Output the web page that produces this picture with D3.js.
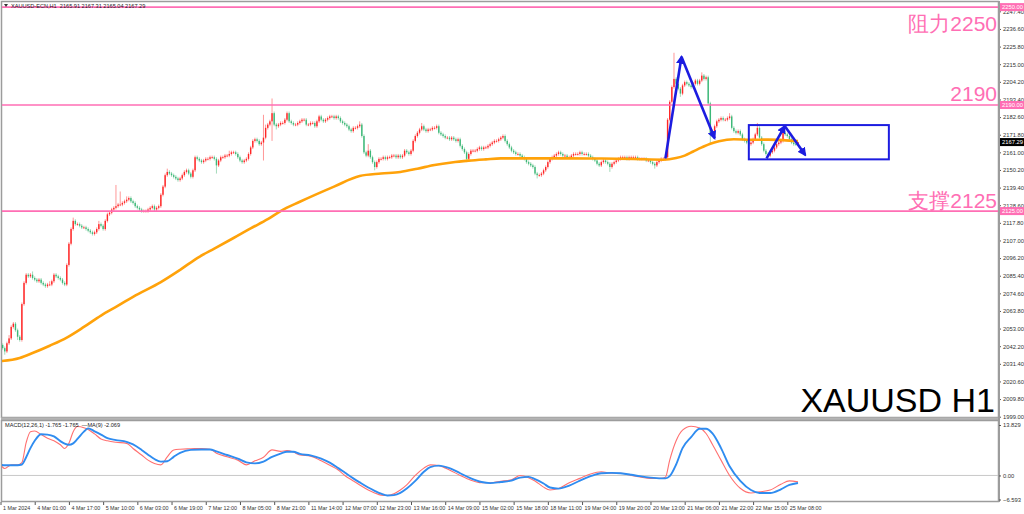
<!DOCTYPE html>
<html>
<head>
<meta charset="utf-8">
<script src="https://cdnjs.cloudflare.com/ajax/libs/d3/7.8.5/d3.min.js"></script>
<style>
body { margin: 0; background: #fff; }
svg { display: block; }
</style>
</head>
<body>
<script>

// ---- data ----
var symbolTitle = "XAUUSD-ECN,H1  2165.91 2167.31 2165.04 2167.29";
var macdTitle = "MACD(12,26,1) -1.765 -1.765  \u2014MA(9) -2.069";

var firstOpen = 2046;
// hourly closes, rows of 10 bars
var closes = [
2043,2041,2039,2044,2047,2054,2056,2052,2048,2046,
2068,2081,2086,2085,2086,2084,2083,2082,2083,2081,
2080,2079,2080,2080,2082,2086,2085,2084,2083,2081,
2080,2092,2105,2114,2119,2117,2117,2116,2115,2115,
2114,2113,2112,2111,2112,2114,2117,2116,2114,2119,
2123,2124,2126,2127,2128,2129,2129,2130,2131,2132,
2133,2131,2130,2128,2127,2126,2125,2125,2125,2126,
2127,2128,2126,2127,2128,2135,2140,2147,2149,2148,
2147,2146,2145,2144,2145,2147,2149,2150,2148,2146,
2150,2158,2157,2156,2155,2156,2157,2157,2158,2158,
2157,2153,2156,2158,2158,2159,2159,2160,2161,2161,
2160,2158,2156,2155,2156,2157,2160,2164,2168,2169,
2168,2166,2167,2170,2176,2178,2180,2185,2178,2177,
2178,2179,2179,2181,2185,2180,2179,2178,2178,2179,
2180,2181,2181,2178,2178,2179,2179,2177,2180,2183,
2181,2180,2181,2182,2183,2183,2182,2183,2182,2180,
2179,2178,2177,2175,2174,2176,2176,2177,2178,2171,
2161,2159,2162,2158,2155,2152,2155,2157,2157,2158,
2157,2158,2158,2159,2159,2158,2159,2158,2159,2162,
2161,2160,2162,2168,2171,2173,2175,2177,2175,2174,
2175,2175,2176,2176,2177,2173,2172,2171,2170,2170,
2169,2170,2169,2168,2169,2165,2163,2161,2157,2160,
2162,2162,2162,2163,2164,2163,2164,2164,2165,2166,
2167,2168,2168,2169,2170,2171,2168,2166,2164,2162,
2161,2160,2160,2159,2158,2157,2155,2154,2153,2152,
2148,2147,2147,2148,2150,2152,2155,2157,2158,2159,
2160,2161,2160,2159,2159,2158,2158,2159,2160,2160,
2160,2161,2160,2160,2160,2159,2158,2157,2156,2154,
2153,2155,2156,2155,2154,2152,2154,2155,2156,2157,
2158,2158,2158,2157,2158,2158,2158,2158,2157,2157,
2157,2157,2156,2156,2155,2154,2153,2155,2156,2157,
2157,2158,2181,2192,2201,2206,2203,2200,2197,2202,
2204,2203,2202,2201,2203,2205,2203,2205,2208,2206,
2207,2191,2172,2174,2177,2180,2181,2182,2181,2181,
2182,2183,2176,2174,2173,2174,2172,2169,2168,2167,
2166,2167,2169,2172,2176,2170,2166,2162,2160,2159,
2161,2162,2164,2166,2167,2168,2173,2172,2171,2169,
2167,2166,2165.9,2167.29
];
// wick above the body / below the body, in dollars
var wickUp = [
1,1,1,1,2,1,1,1,1,1,
1,1,1,1,1,2,1,1,1,1,
1,1,1,2,1,1,1,1,1,1,
1,1,1,1,2,1,1,1,1,1,
1,1,1,1,1,1,2,1,1,1,
1,1,1,1,13,1,8,1,1,2,
1,1,1,1,1,1,1,1,1,1,
1,1,1,1,1,1,1,1,2,1,
1,1,1,1,1,1,1,1,1,1,
1,1,1,1,1,1,1,1,1,1,
1,1,1,1,1,1,1,2,1,1,
1,1,1,1,1,1,1,1,1,1,
1,1,1,14,2,1,1,9,1,1,
1,1,1,1,1,1,1,1,1,1,
1,1,1,1,1,1,1,1,1,1,
1,1,1,1,1,1,1,1,1,1,
1,1,1,1,1,1,1,1,2,1,
1,1,4,1,1,1,1,1,1,1,
1,1,1,1,1,1,1,1,1,1,
1,1,1,1,1,1,1,2,1,1,
1,1,1,1,1,1,1,1,1,1,
1,1,1,1,1,1,1,1,1,1,
1,1,1,1,1,1,1,1,1,1,
1,1,1,1,1,1,1,1,1,1,
1,1,1,1,1,1,1,1,1,1,
1,1,1,1,1,1,1,1,1,1,
1,1,1,1,1,1,1,1,1,1,
1,1,1,1,1,1,1,1,1,1,
1,1,1,1,1,1,1,1,1,1,
1,1,1,1,1,1,1,1,1,1,
1,1,1,1,1,1,1,1,1,1,
1,1,1,1,1,16,1,1,1,1,
1,1,1,1,1,1,1,1,2,1,
1,1,1,1,1,1,1,1,1,1,
1,2,1,1,1,1,1,1,1,1,
1,1,1,1,3,1,1,1,1,1,
1,1,1,1,1,1,2,1,1,1,
1,1,1,0.1
];
var wickDn = [
1,1,2,1,1,1,1,1,2,1,
1,1,1,1,1,1,1,1,1,1,
1,1,1,1,1,1,1,1,1,1,
1,1,1,1,1,1,1,1,1,1,
1,1,1,1,1,1,1,1,1,1,
1,1,1,1,1,1,1,1,1,1,
1,1,1,1,1,1,1,1,1,1,
1,1,1,1,1,1,1,1,1,1,
1,1,1,1,1,1,1,1,1,1,
1,1,1,1,1,1,1,1,1,1,
1,5,1,1,1,1,1,1,1,1,
1,1,1,1,1,1,1,1,1,1,
1,1,1,11,1,1,1,12,1,2,
1,1,1,1,1,1,1,1,1,1,
1,1,1,1,1,1,1,1,1,1,
1,1,1,1,1,1,1,1,1,1,
1,1,1,1,1,1,1,1,1,1,
1,1,1,1,1,2,1,1,1,1,
1,1,1,1,1,1,1,1,1,1,
1,1,1,1,1,1,1,1,1,1,
1,1,1,1,1,1,1,1,1,1,
1,1,1,1,1,1,1,1,2,1,
1,1,1,1,1,1,1,1,1,1,
1,1,1,1,1,1,1,1,1,1,
1,1,1,1,1,1,1,1,1,1,
1,2,1,1,1,1,1,1,1,1,
1,1,1,1,1,1,1,1,1,1,
1,1,1,1,1,1,1,1,1,1,
1,1,1,1,1,3,1,1,1,1,
1,1,1,1,1,1,1,1,1,1,
1,1,1,1,1,1,2,1,1,1,
1,1,1,1,1,1,1,1,2,1,
1,1,1,1,1,1,1,1,1,1,
1,1,6,1,1,1,1,1,1,1,
1,1,1,1,1,1,1,1,1,1,
1,1,1,1,1,1,1,1,1,1,
1,1,1,1,1,1,1,1,1,1,
1,1,1,0.9
];

// orange moving average, sampled at bar indices
var maIdx = [0, 9, 15, 23, 31, 39, 47, 55, 62, 75, 84, 93, 100, 109, 117, 125, 131, 140, 156, 168, 178, 187, 195, 203, 211, 219, 227, 234, 250, 265, 281, 296, 310, 316, 320, 324, 328, 332, 336, 343, 351, 359, 366, 373];
var maVal = [2033, 2035, 2038, 2042.5, 2047.5, 2054, 2061, 2067, 2072.5, 2081.5, 2089, 2097, 2102, 2108.5, 2114.4, 2120, 2125, 2130.7, 2140, 2146.5, 2148, 2149, 2151, 2153.2, 2154.8, 2155.9, 2156.7, 2157.3, 2157.3, 2157.3, 2157.2, 2156.9, 2156.5, 2157.5, 2159, 2161.5, 2164, 2166.3, 2167.8, 2169, 2168.7, 2168.8, 2168.5, 2167.9];

// MACD main and signal, sampled at bar indices
var macdIdx = [0, 2, 5, 8, 10, 12, 14, 16, 19, 22, 25, 28, 30, 32, 34, 36, 39, 41, 44, 47, 50, 54, 59, 62, 66, 69, 72, 75, 78, 81, 84, 89, 94, 98, 101, 106, 111, 115, 119, 123, 127, 131, 134, 137, 140, 145, 150, 154, 158, 161, 165, 168, 172, 175, 178, 181, 184, 187, 190, 194, 198, 201, 205, 210, 215, 220, 225, 229, 234, 239, 243, 247, 250, 254, 257, 261, 266, 271, 276, 281, 286, 290, 295, 299, 304, 309, 311, 313, 316, 319, 323, 327, 330, 333, 337, 341, 346, 351, 355, 360, 365, 369, 373];
var macdMain = [2.9, 1.9, 2.9, 2.9, 3.5, 9.0, 12.0, 12.2, 11.2, 10.2, 9.5, 8.4, 7.4, 8.8, 12.0, 13.4, 13.1, 12.6, 11.4, 10.0, 9.5, 9.1, 8.8, 7.4, 5.6, 4.2, 3.3, 2.9, 5.1, 7.0, 7.2, 7.3, 7.4, 7.2, 6.1, 5.1, 4.2, 2.9, 4.0, 5.0, 7.0, 6.6, 6.8, 6.4, 5.6, 5.3, 4.0, 2.8, 1.5, 0.0, -1.5, -2.6, -4.0, -4.8, -5.4, -5.5, -5.0, -4.0, -2.6, 0.0, 2.0, 2.9, 2.7, 1.5, 0.0, -1.3, -2.0, -2.0, -1.6, -1.2, 0.0, -0.6, -1.5, -3.2, -4.0, -3.6, -2.0, -0.8, 0.4, 1.0, 0.6, 0.6, 0.0, -0.4, -0.8, -0.8, -0.5, 4.2, 9.5, 12.4, 13.5, 13.0, 11.5, 8.5, 4.2, 0.0, -3.5, -4.8, -4.5, -4.0, -2.4, -1.5, -1.765];
var macdSignal = [2.9, 2.8, 2.8, 2.8, 3.0, 5.0, 7.5, 9.5, 11.3, 11.2, 10.7, 9.4, 8.7, 8.4, 8.8, 10.0, 12.0, 12.9, 12.1, 11.2, 10.2, 9.7, 9.2, 8.5, 7.0, 5.7, 4.5, 3.8, 3.9, 5.1, 6.2, 7.0, 7.1, 7.1, 6.6, 5.6, 4.6, 3.6, 3.3, 3.8, 5.1, 6.0, 6.5, 6.5, 5.9, 5.5, 4.6, 3.5, 2.0, 0.8, -0.8, -1.9, -3.3, -4.2, -5.0, -5.5, -5.4, -4.8, -3.6, -1.5, 1.0, 2.3, 2.7, 2.0, 0.6, -0.8, -1.8, -2.1, -1.8, -1.4, -0.6, -0.4, -1.0, -2.2, -3.3, -3.6, -2.8, -1.4, -0.2, 0.6, 0.7, 0.6, 0.2, -0.2, -0.6, -0.8, -0.8, -0.2, 3.0, 7.5, 10.5, 12.8, 12.8, 11.5, 7.5, 2.5, -1.5, -4.0, -4.8, -4.8, -3.8, -2.6, -2.069];

var priceTicks = [1999.0, 2009.8, 2020.6, 2031.4, 2042.2, 2053.0, 2063.8, 2074.6, 2085.4, 2096.2, 2107.0, 2117.8, 2128.6, 2139.4, 2150.2, 2161.0, 2171.8, 2182.6, 2193.4, 2204.2, 2215.0, 2225.8, 2236.6, 2247.4];
var timeIdx = [0, 16, 32, 48, 64, 80, 96, 112, 128, 144, 160, 176, 192, 208, 224, 240, 256, 272, 288, 304, 320, 336, 352, 368];
var timeLabels = ["1 Mar 2024", "4 Mar 01:00", "4 Mar 17:00", "5 Mar 10:00", "6 Mar 03:00", "6 Mar 19:00", "7 Mar 12:00", "8 Mar 05:00", "8 Mar 21:00", "11 Mar 14:00", "12 Mar 07:00", "12 Mar 23:00", "13 Mar 16:00", "14 Mar 09:00", "15 Mar 02:00", "15 Mar 18:00", "18 Mar 11:00", "19 Mar 04:00", "19 Mar 20:00", "20 Mar 13:00", "21 Mar 06:00", "21 Mar 22:00", "22 Mar 15:00", "25 Mar 08:00"];

var levels = [2250, 2190, 2125];
var levelTexts = ["\u963b\u529b2250", "2190", "\u652f\u64912125"];
var macdScale = [-6.593, 0, 13.829];

// hand drawn annotations, as [bar index, price]
var bigArrow = [[311, 2157.3], [318.5, 2219.6], [334, 2169.6]];
var smallArrow = [[358.3, 2157.3], [366.8, 2177.1], [376.4, 2159.4]];
var boxCorners = [[350, 2177.7], [415.5, 2156.7]];

// ---- chart ----
var W = 1024, H = 514;
var upColor = "#ff2626", downColor = "#3cb878";
var pink = "#ff6eb4", blue = "#1c1ce0";

var svg = d3.select("body").append("svg")
    .attr("width", W)
    .attr("height", H);

var n = closes.length;
var x = d3.scaleLinear().domain([0, n - 1]).range([0.5, 798]);
var y = d3.scaleLinear().domain([1999, 2250]).range([416.7, 7.1]);
var ym = d3.scaleLinear().domain([-6.593, 13.829]).range([499.5, 425]);

var candles = closes.map(function(c, i) {
  var o = i === 0 ? firstOpen : closes[i - 1];
  return {
    i: i, o: o, c: c,
    h: Math.max(o, c) + wickUp[i],
    l: Math.min(o, c) - wickDn[i]
  };
});

var defs = svg.append("defs");
defs.append("clipPath").attr("id", "clipMain")
  .append("rect").attr("x", 2).attr("y", 2).attr("width", 996).attr("height", 415);
defs.append("clipPath").attr("id", "clipMacd")
  .append("rect").attr("x", 2).attr("y", 421).attr("width", 996).attr("height", 80);
defs.append("marker")
    .attr("id", "head")
    .attr("viewBox", "0 0 10 10")
    .attr("refX", 8).attr("refY", 5)
    .attr("markerWidth", 3.4).attr("markerHeight", 3.4)
    .attr("orient", "auto")
  .append("path")
    .attr("d", "M0,0 L10,5 L0,10 z")
    .attr("fill", blue);

// frames
svg.append("rect").attr("x", 1.5).attr("y", 1.5).attr("width", 997).attr("height", 416)
  .attr("fill", "none").attr("stroke", "#9c9c9c").attr("stroke-width", 1.5);
svg.append("rect").attr("x", 1).attr("y", 417.5).attr("width", 998).attr("height", 3)
  .attr("fill", "#b4b4b4");
svg.append("rect").attr("x", 1.5).attr("y", 420.5).attr("width", 997).attr("height", 81)
  .attr("fill", "none").attr("stroke", "#9c9c9c").attr("stroke-width", 1.5);

var main = svg.append("g").attr("clip-path", "url(#clipMain)");

// candles
var cg = main.append("g");
cg.selectAll("line.wick")
  .data(candles)
  .enter().append("line")
  .attr("class", "wick")
  .attr("x1", function(d) { return x(d.i); })
  .attr("x2", function(d) { return x(d.i); })
  .attr("y1", function(d) { return y(d.h); })
  .attr("y2", function(d) { return y(d.l); })
  .attr("stroke", function(d) { return d.c >= d.o ? "#ff8c8c" : "#9ad6b2"; })
  .attr("stroke-width", 0.9);

cg.selectAll("rect.body")
  .data(candles)
  .enter().append("rect")
  .attr("class", "body")
  .attr("x", function(d) { return x(d.i) - 0.7; })
  .attr("width", 1.4)
  .attr("y", function(d) { return y(Math.max(d.o, d.c)); })
  .attr("height", function(d) { return Math.max(0.8, Math.abs(y(d.o) - y(d.c))); })
  .attr("fill", function(d) { return d.c >= d.o ? upColor : downColor; });

// moving average
var maPts = maIdx.map(function(d, i) { return [d, maVal[i]]; });
main.append("path")
  .datum(maPts)
  .attr("fill", "none")
  .attr("stroke", "#ffa20a")
  .attr("stroke-width", 2.6)
  .attr("d", d3.line()
    .x(function(d) { return x(d[0]); })
    .y(function(d) { return y(d[1]); })
    .curve(d3.curveMonotoneX));

// support / resistance lines
main.selectAll("line.level")
  .data(levels)
  .enter().append("line")
  .attr("class", "level")
  .attr("x1", 2).attr("x2", 999)
  .attr("y1", function(d) { return y(d); })
  .attr("y2", function(d) { return y(d); })
  .attr("stroke", pink)
  .attr("stroke-width", 1.6);

svg.selectAll("text.leveltext")
  .data(levels)
  .enter().append("text")
  .attr("class", "leveltext")
  .attr("x", 997)
  .attr("y", function(d, i) { return [31, 101, 208][i]; })
  .attr("text-anchor", "end")
  .attr("font-family", "'Liberation Sans', Arial, sans-serif")
  .attr("font-size", "21px")
  .attr("fill", pink)
  .text(function(d, i) { return levelTexts[i]; });

// annotations
var aLine = d3.line()
  .x(function(d) { return x(d[0]); })
  .y(function(d) { return y(d[1]); });

[bigArrow, smallArrow].forEach(function(a) {
  main.append("path")
    .datum([a[0], a[1]])
    .attr("d", aLine)
    .attr("fill", "none")
    .attr("stroke", blue)
    .attr("stroke-width", 2.6)
    .attr("marker-end", "url(#head)");
  main.append("path")
    .datum([a[1], a[2]])
    .attr("d", aLine)
    .attr("fill", "none")
    .attr("stroke", blue)
    .attr("stroke-width", 2.6)
    .attr("marker-end", "url(#head)");
});

main.append("rect")
  .attr("x", x(boxCorners[0][0]))
  .attr("y", y(boxCorners[0][1]))
  .attr("width", x(boxCorners[1][0]) - x(boxCorners[0][0]))
  .attr("height", y(boxCorners[1][1]) - y(boxCorners[0][1]))
  .attr("fill", "none")
  .attr("stroke", blue)
  .attr("stroke-width", 2);

svg.append("text")
  .attr("x", 995)
  .attr("y", 412)
  .attr("text-anchor", "end")
  .attr("font-family", "'Liberation Sans', Arial, sans-serif")
  .attr("font-size", "34px")
  .attr("fill", "#000")
  .text("XAUUSD H1");

// header
svg.append("path")
  .attr("d", "M4,4 L8,4 L6,7 z")
  .attr("fill", "#333");
svg.append("text")
  .attr("x", 11).attr("y", 7.5)
  .attr("font-family", "'Liberation Sans', Arial, sans-serif")
  .attr("font-size", "5.6px")
  .attr("fill", "#222")
  .attr("xml:space", "preserve")
  .text(symbolTitle);

// price axis
var yAxis = svg.append("g")
  .attr("transform", "translate(999,0)")
  .call(d3.axisRight(y).tickValues(priceTicks).tickSize(2).tickPadding(2).tickFormat(d3.format(".2f")));
yAxis.select(".domain").remove();
yAxis.selectAll("text")
  .attr("font-family", "'Liberation Sans', Arial, sans-serif")
  .attr("font-size", "5.8px")
  .attr("fill", "#333");
yAxis.selectAll("line").attr("stroke", "#555");

svg.append("line")
  .attr("x1", 999).attr("x2", 999).attr("y1", 1).attr("y2", 502)
  .attr("stroke", "#9c9c9c").attr("stroke-width", 2);

// price tags on the axis
function tag(v, fill) {
  var g = svg.append("g").attr("transform", "translate(1000," + y(v) + ")");
  g.append("rect").attr("x", 0).attr("y", -4).attr("width", 24).attr("height", 8).attr("fill", fill);
  g.append("text").attr("x", 2).attr("y", 2)
    .attr("font-family", "'Liberation Sans', Arial, sans-serif")
    .attr("font-size", "5.8px")
    .attr("fill", "#fff")
    .text(d3.format(".2f")(v));
}
levels.forEach(function(v) { tag(v, pink); });
tag(closes[n - 1], "#000");

// MACD panel
var mg = svg.append("g").attr("clip-path", "url(#clipMacd)");
mg.append("line")
  .attr("x1", 2).attr("x2", 998)
  .attr("y1", ym(0)).attr("y2", ym(0))
  .attr("stroke", "#c8c8c8")
  .attr("stroke-width", 1);

var mLine = function(vals) {
  return d3.line()
    .x(function(d, i) { return x(macdIdx[i]); })
    .y(function(d) { return ym(d); })
    .curve(d3.curveMonotoneX)(vals);
};
mg.append("path").attr("d", mLine(macdMain))
  .attr("fill", "none").attr("stroke", "#ff7070").attr("stroke-width", 1.1);
mg.append("path").attr("d", mLine(macdSignal))
  .attr("fill", "none").attr("stroke", "#2f8cf0").attr("stroke-width", 1.9);

svg.append("text")
  .attr("x", 5).attr("y", 427)
  .attr("font-family", "'Liberation Sans', Arial, sans-serif")
  .attr("font-size", "5.6px")
  .attr("fill", "#222")
  .attr("xml:space", "preserve")
  .text(macdTitle);

var macdAxis = svg.append("g")
  .attr("transform", "translate(999,0)")
  .call(d3.axisRight(ym).tickValues(macdScale).tickSize(2).tickPadding(2)
    .tickFormat(function(d) { return d === 0 ? "0.00" : d3.format(".3f")(d); }));
macdAxis.select(".domain").remove();
macdAxis.selectAll("text")
  .attr("font-family", "'Liberation Sans', Arial, sans-serif")
  .attr("font-size", "5.8px")
  .attr("fill", "#333");
macdAxis.selectAll("line").attr("stroke", "#555");

// time axis
var xAxis = svg.append("g")
  .attr("transform", "translate(0,502)")
  .call(d3.axisBottom(x).tickValues(timeIdx).tickSize(3).tickPadding(1)
    .tickFormat(function(d, i) { return timeLabels[i]; }));
xAxis.select(".domain").remove();
xAxis.selectAll("text")
  .attr("text-anchor", "start")
  .attr("dx", 2)
  .attr("font-family", "'Liberation Sans', Arial, sans-serif")
  .attr("font-size", "5.4px")
  .attr("fill", "#333");
xAxis.selectAll("line").attr("stroke", "#555");

</script>
</body>
</html>
